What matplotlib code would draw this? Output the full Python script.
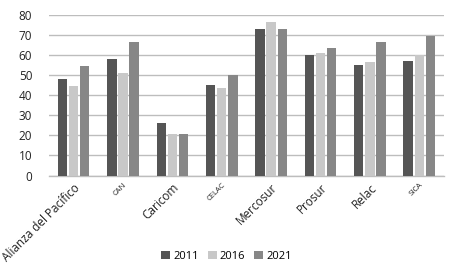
import numpy as np
import matplotlib
matplotlib.use("Agg")
import matplotlib.pyplot as plt
import matplotlib.transforms as mtransforms

plt.rcParams['font.family'] = ['Open Sans', 'DejaVu Sans']

categories = ['Alianza del Pacífico', 'CAN', 'Caricom', 'CELAC',
              'Mercosur', 'Prosur', 'Relac', 'SICA']
small_labels = ['CAN', 'CELAC', 'SICA']
years = ['2011', '2016', '2021']
v2011 = [48, 58, 26, 45, 73, 60, 55, 57]
v2016 = [44.5, 51, 20.5, 43.5, 76.5, 60.8, 56.3, 59.8]
v2021 = [54.5, 66.5, 20.5, 50, 73, 63.3, 66.3, 69.5]
colors = ['#555555', '#c8c8c8', '#878787']

fig = plt.figure(figsize=(4.53, 2.68), dpi=100)
ax = fig.add_axes([0.108, 0.345, 0.872, 0.60])

x = np.arange(len(categories))
w = 0.19
step = 0.225
for i, (vals, yr, c) in enumerate(zip([v2011, v2016, v2021], years, colors)):
    ax.bar(x + (i - 1) * step, vals, width=w, color=c, label=yr, zorder=3)

ax.set_ylim(0, 80)
ax.set_yticks(range(0, 81, 10))
ax.set_xlim(-0.5, len(categories) - 0.5)
ax.grid(axis='y', color='#bdbdbd', linewidth=1.0, zorder=0)
for s in ['top', 'right', 'left']:
    ax.spines[s].set_visible(False)
ax.spines['bottom'].set_color('#bdbdbd')
ax.spines['bottom'].set_linewidth(1.0)
ax.tick_params(axis='both', length=0, labelsize=8.5, colors='#222222')
ax.tick_params(axis='y', pad=12)

ax.set_xticks(x)
ax.set_xticklabels(categories)
shift = mtransforms.ScaledTranslation(5 / 100, 0, fig.dpi_scale_trans)
for lbl in ax.get_xticklabels():
    lbl.set_rotation(45)
    lbl.set_ha('right')
    lbl.set_rotation_mode('anchor')
    lbl.set_fontsize(5.5 if lbl.get_text() in small_labels else 8.5)
    lbl.set_color('#222222')
    lbl.set_transform(lbl.get_transform() + shift)
ax.tick_params(axis='x', pad=4)

fig.legend(loc='lower center', bbox_to_anchor=(0.5, -0.015), ncol=3, frameon=False,
           fontsize=8, handlelength=0.8, handleheight=0.8, handletextpad=0.3,
           columnspacing=0.8)

fig.savefig('out.png', dpi=100)
